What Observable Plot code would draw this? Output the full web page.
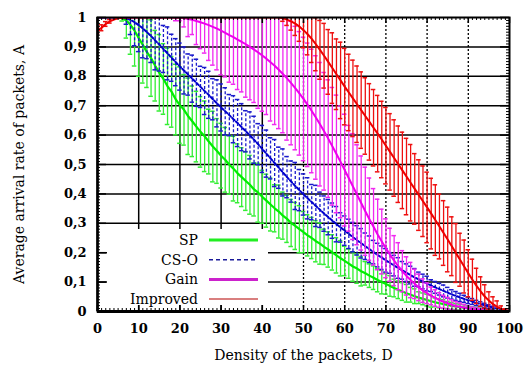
<!DOCTYPE html>
<html><head><meta charset="utf-8">
<script src="https://cdn.jsdelivr.net/npm/d3@7"></script>
<script src="https://cdn.jsdelivr.net/npm/@observablehq/plot@0.6"></script>
<style>
body{margin:0;background:#fff;}
#wrap{position:relative;width:531px;height:367px;}
#legend{position:absolute;left:0;top:0;pointer-events:none;}
#wrap svg [aria-label$="tick label"] text{font-weight:bold;font-size:13px;}
</style></head><body><div id="wrap"></div>
<script>
const density = [0,1,2,3,4,5,6,7,8,9,10,11,12,13,14,15,16,17,18,19,20,21,22,23,24,25,26,27,28,29,30,31,32,33,34,35,36,37,38,39,40,41,42,43,44,45,46,47,48,49,50,51,52,53,54,55,56,57,58,59,60,61,62,63,64,65,66,67,68,69,70,71,72,73,74,75,76,77,78,79,80,81,82,83,84,85,86,87,88,89,90,91,92,93,94,95,96,97,98,99,100];

const spMean = [1.000,
1.000,1.000,1.000,1.000,1.000,0.998,0.990,0.975,0.955,0.930,
0.907,0.882,0.862,0.836,0.812,0.791,0.766,0.747,0.721,0.702,
0.686,0.664,0.647,0.629,0.611,0.596,0.578,0.561,0.546,0.530,
0.516,0.499,0.486,0.470,0.457,0.444,0.431,0.415,0.404,0.390,
0.377,0.364,0.351,0.340,0.326,0.315,0.301,0.291,0.280,0.270,
0.259,0.250,0.239,0.231,0.220,0.211,0.201,0.191,0.181,0.172,
0.163,0.153,0.146,0.137,0.130,0.122,0.115,0.107,0.100,0.094,
0.087,0.080,0.074,0.068,0.062,0.057,0.052,0.047,0.043,0.039,
0.035,0.031,0.028,0.025,0.022,0.019,0.017,0.015,0.013,0.011,
0.009,0.008,0.006,0.005,0.004,0.003,0.002,0.001,0.001,0.000];
const spErr = [0,
0,0,0,0,0,0.010,0.060,0.100,0.120,0.130,
0.130,0.120,0.130,0.120,0.130,0.120,0.130,0.120,0.120,0.130,
0.120,0.130,0.120,0.120,0.120,0.120,0.110,0.120,0.110,0.110,
0.110,0.100,0.110,0.100,0.100,0.100,0.100,0.090,0.100,0.090,
0.090,0.090,0.080,0.090,0.080,0.080,0.080,0.080,0.080,0.070,
0.070,0.070,0.070,0.070,0.060,0.060,0.060,0.060,0.060,0.050,
0.050,0.050,0.050,0.050,0.040,0.040,0.040,0.040,0.040,0.035,
0.035,0.030,0.030,0.030,0.030,0.025,0.025,0.020,0.020,0.020,
0.020,0.015,0.015,0.015,0.012,0.012,0.010,0.010,0.010,0.008,
0.007,0.006,0.005,0.004,0.003,0.003,0.002,0.001,0.001,0.000];

const csoMean = [1.000,
1.000,1.000,1.000,1.000,1.000,1.000,0.997,0.992,0.984,0.974,
0.963,0.950,0.937,0.922,0.908,0.893,0.878,0.863,0.848,0.833,
0.820,0.806,0.792,0.778,0.764,0.750,0.737,0.722,0.708,0.694,
0.681,0.668,0.654,0.641,0.627,0.613,0.599,0.584,0.569,0.553,
0.537,0.521,0.505,0.489,0.473,0.457,0.442,0.427,0.413,0.398,
0.385,0.372,0.359,0.346,0.333,0.321,0.309,0.297,0.286,0.275,
0.264,0.253,0.242,0.232,0.222,0.212,0.202,0.192,0.183,0.174,
0.165,0.156,0.148,0.140,0.132,0.124,0.116,0.109,0.102,0.095,
0.088,0.082,0.076,0.070,0.064,0.058,0.053,0.048,0.043,0.038,
0.034,0.029,0.025,0.021,0.017,0.013,0.010,0.007,0.004,0.002];
const csoErr = [0,
0,0,0,0,0,0,0.020,0.050,0.080,0.090,
0.100,0.090,0.090,0.100,0.090,0.080,0.090,0.080,0.080,0.080,
0.080,0.070,0.080,0.080,0.070,0.080,0.080,0.070,0.080,0.080,
0.080,0.070,0.080,0.080,0.080,0.070,0.080,0.080,0.070,0.080,
0.080,0.070,0.080,0.070,0.080,0.070,0.070,0.080,0.070,0.070,
0.070,0.060,0.070,0.060,0.060,0.060,0.060,0.060,0.050,0.050,
0.050,0.050,0.050,0.050,0.045,0.045,0.040,0.040,0.040,0.040,
0.035,0.035,0.035,0.030,0.030,0.030,0.030,0.025,0.025,0.025,
0.020,0.020,0.020,0.020,0.018,0.016,0.015,0.014,0.012,0.011,
0.010,0.009,0.008,0.007,0.006,0.005,0.004,0.003,0.002,0.001];

const gainMean = [1.000,
1.000,1.000,1.000,1.000,1.000,1.000,1.000,1.000,1.000,1.000,
1.000,1.000,1.000,1.000,1.000,1.000,1.000,1.000,0.999,0.999,
0.998,0.995,0.992,0.988,0.984,0.979,0.974,0.968,0.962,0.955,
0.948,0.940,0.933,0.925,0.917,0.909,0.900,0.891,0.881,0.871,
0.860,0.848,0.836,0.822,0.808,0.793,0.777,0.760,0.742,0.723,
0.703,0.682,0.660,0.637,0.613,0.588,0.562,0.536,0.509,0.481,
0.453,0.425,0.397,0.369,0.341,0.314,0.288,0.262,0.238,0.215,
0.193,0.173,0.154,0.137,0.121,0.107,0.094,0.082,0.071,0.062,
0.053,0.046,0.039,0.033,0.028,0.023,0.019,0.016,0.013,0.010,
0.008,0.006,0.005,0.004,0.003,0.002,0.001,0.001,0.000,0.000];
const gainErr = [0,
0,0,0,0,0,0,0,0,0,0,
0,0,0,0,0,0,0,0,0.010,0.010,
0.030,0.060,0.050,0.080,0.090,0.100,0.120,0.130,0.140,0.150,
0.150,0.160,0.160,0.170,0.170,0.180,0.180,0.180,0.190,0.190,
0.190,0.200,0.200,0.200,0.200,0.210,0.210,0.210,0.210,0.210,
0.210,0.210,0.210,0.210,0.200,0.200,0.200,0.200,0.190,0.190,
0.180,0.180,0.170,0.160,0.150,0.140,0.130,0.120,0.110,0.100,
0.090,0.085,0.080,0.070,0.065,0.060,0.050,0.045,0.040,0.035,
0.030,0.028,0.025,0.022,0.020,0.017,0.015,0.013,0.011,0.009,
0.007,0.006,0.005,0.004,0.003,0.002,0.001,0.001,0.000,0.000];

const impMean = [0.955,
0.965,0.978,0.987,0.993,0.997,0.999,1.000,1.000,1.000,1.000,
1.000,1.000,1.000,1.000,1.000,1.000,1.000,1.000,1.000,1.000,
1.000,1.000,1.000,1.000,1.000,1.000,1.000,1.000,1.000,1.000,
1.000,1.000,1.000,1.000,1.000,1.000,1.000,1.000,1.000,1.000,
1.000,1.000,1.000,1.000,0.997,0.993,0.987,0.979,0.969,0.957,
0.943,0.927,0.909,0.890,0.870,0.849,0.828,0.807,0.786,0.765,
0.745,0.725,0.705,0.685,0.665,0.645,0.625,0.605,0.585,0.564,
0.543,0.522,0.501,0.480,0.459,0.438,0.417,0.396,0.375,0.354,
0.333,0.311,0.289,0.267,0.245,0.222,0.199,0.176,0.153,0.130,
0.108,0.087,0.068,0.051,0.037,0.025,0.016,0.009,0.004,0.002];
const impErr = [0.010,
0.010,0.008,0.006,0.004,0.002,0.001,0,0,0,0,
0,0,0,0,0,0,0,0,0,0,
0,0,0,0,0,0,0,0,0,0,
0,0,0,0,0,0,0,0,0,0,
0,0,0,0,0.010,0.020,0.030,0.040,0.050,0.060,
0.070,0.080,0.090,0.100,0.110,0.110,0.120,0.120,0.130,0.130,
0.130,0.130,0.130,0.130,0.130,0.130,0.130,0.130,0.130,0.130,
0.130,0.130,0.130,0.130,0.130,0.130,0.120,0.120,0.120,0.120,
0.120,0.120,0.110,0.110,0.110,0.100,0.100,0.090,0.090,0.080,
0.070,0.060,0.050,0.040,0.030,0.025,0.020,0.010,0.005,0.002];

const seriesNames = ["SP", "CS-O", "Gain", "Improved"];
const xTicks = [0,10,20,30,40,50,60,70,80,90,100];
const yTicks = [0,0.1,0.2,0.3,0.4,0.5,0.6,0.7,0.8,0.9,1];
const gridSolidX = [10,20,30,40];
const gridDotX = [50,60,70,80,90];
const gridY = [0.1,0.2,0.3,0.4,0.5,0.6,0.7,0.8,0.9];
const xLabel = "Density of the packets, D";
const yLabel = "Average arrival rate of packets, A";

const W = 531, H = 367, mL = 97, mR = 22, mT = 17, mB = 56;
const PW = W - mL - mR, PH = H - mT - mB;
const minorX = d3.range(0, 101, 1);
const minorY = d3.range(0, 101, 1).map(v => v / 100);
const FONT = "'DejaVu Serif','Liberation Serif',serif";

function rows(mean, err) {
  return density.map((x, i) => ({x, y: mean[i], lo: Math.max(0, mean[i] - err[i]), hi: mean[i] + err[i], e: err[i]}));
}
function seriesMarks(data, color, barColor, dash, lw) {
  const bars = data.filter(d => d.e > 0.004);
  const cap = 0.55;
  return [
    Plot.ruleX(bars, {x: "x", y1: "lo", y2: "hi", stroke: barColor, strokeWidth: 1.3, strokeDasharray: dash, clip: true}),
    Plot.ruleY(bars, {y: "lo", x1: d => d.x - cap, x2: d => d.x + cap, stroke: barColor, strokeWidth: 1.5, clip: true}),
    Plot.ruleY(bars, {y: "hi", x1: d => d.x - cap, x2: d => d.x + cap, stroke: barColor, strokeWidth: 1.5, clip: true}),
    Plot.line(data, {x: "x", y: "y", stroke: color, strokeWidth: lw, strokeDasharray: dash, clip: true})
  ];
}

const sp = rows(spMean, spErr), cso = rows(csoMean, csoErr), gain = rows(gainMean, gainErr), imp = rows(impMean, impErr);
const fmt = d => d === 0 ? "0" : d === 1 ? "1" : d.toFixed(1).replace(".", ",");

const chart = Plot.plot({
  width: W, height: H,
  marginLeft: mL, marginRight: mR, marginTop: mT, marginBottom: mB,
  style: {fontFamily: FONT, fontSize: "14px", color: "#000", background: "#fff"},
  x: {domain: [0, 100], ticks: xTicks, tickSize: 0, tickPadding: 12, label: xLabel, labelAnchor: "center", labelOffset: 48, labelArrow: "none"},
  y: {domain: [0, 1], ticks: yTicks, tickSize: 0, tickPadding: 11, tickFormat: fmt, label: yLabel, labelAnchor: "center", labelOffset: 83, labelArrow: "none"},
  marks: [
    Plot.ruleY(gridY, {stroke: "#000", strokeWidth: 1.5}),
    Plot.ruleX(gridSolidX, {stroke: "#000", strokeWidth: 1.5}),
    Plot.ruleX(gridDotX, {stroke: "#000", strokeWidth: 1.3, strokeDasharray: "2,2"}),
    ...seriesMarks(sp, "#00ee00", "#33ee33", null, 2.2),
    ...seriesMarks(cso, "#0000cc", "#1a1acc", "3,2", 2),
    ...seriesMarks(gain, "#ee00ee", "#f028f0", null, 2),
    ...seriesMarks(imp, "#ee0000", "#ee1010", null, 2),
    Plot.tickX(minorX, {x: d => d, insetTop: PH - 3, stroke: "#000", strokeWidth: 1}),
    Plot.tickX(minorX, {x: d => d, insetBottom: PH - 3, stroke: "#000", strokeWidth: 1}),
    Plot.tickY(minorY, {y: d => d, insetRight: PW - 3, stroke: "#000", strokeWidth: 1}),
    Plot.tickY(minorY, {y: d => d, insetLeft: PW - 3, stroke: "#000", strokeWidth: 1}),
    Plot.tickX(xTicks, {x: d => d, insetTop: PH - 6, stroke: "#000", strokeWidth: 1.5}),
    Plot.tickX(xTicks, {x: d => d, insetBottom: PH - 6, stroke: "#000", strokeWidth: 1.5}),
    Plot.tickY(yTicks, {y: d => d, insetRight: PW - 9, stroke: "#000", strokeWidth: 1.5}),
    Plot.tickY(yTicks, {y: d => d, insetLeft: PW - 9, stroke: "#000", strokeWidth: 1.5}),
    Plot.frame({stroke: "#000", strokeWidth: 2}),
    Plot.ruleY([0], {stroke: "#000", strokeWidth: 3}),
    Plot.ruleX([0], {stroke: "#000", strokeWidth: 2.5})
  ]
});
const wrap = document.getElementById("wrap");
wrap.appendChild(chart);

// legend (inside the plot, bottom-left)
const legendItems = [
  {name: seriesNames[0], color: "#22ee22", width: 3, dash: null},
  {name: seriesNames[1], color: "#1a1a99", width: 1.5, dash: "4,3"},
  {name: seriesNames[2], color: "#cc22cc", width: 3, dash: null},
  {name: seriesNames[3], color: "#cc5555", width: 1.5, dash: null}
];
const lg = d3.select(wrap).append("svg").attr("id", "legend").attr("width", W).attr("height", H);
lg.append("rect").attr("x", 107).attr("y", 229).attr("width", 161).attr("height", 76).attr("fill", "#fff");
legendItems.forEach((it, i) => {
  const cy = 240 + i * 19.7;
  lg.append("text").attr("x", 198).attr("y", cy).attr("dy", "0.35em").attr("text-anchor", "end")
    .attr("font-family", FONT).attr("font-size", 14).text(it.name);
  lg.append("line").attr("x1", 209).attr("x2", 258).attr("y1", cy).attr("y2", cy)
    .attr("stroke", it.color).attr("stroke-width", it.width).attr("stroke-dasharray", it.dash);
});
</script></body></html>
